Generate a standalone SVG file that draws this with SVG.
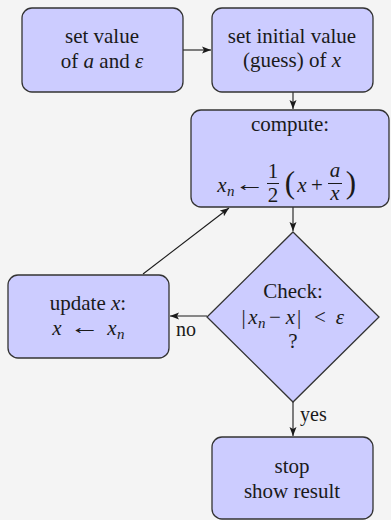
<svg xmlns="http://www.w3.org/2000/svg" width="391" height="520" viewBox="0 0 391 520">
  <style>
    .box { fill: #ccccff; stroke: #333333; stroke-width: 1.3; }
    .t { font-family: "Liberation Serif", "DejaVu Serif", serif; font-size: 21px; fill: #1a1a1a; text-anchor: middle; }
    .m { font-style: italic; }
    .sub { font-family: "Liberation Serif", serif; font-style: italic; font-size: 15px; fill: #1a1a1a; }
    .edge { stroke: #1a1a1a; stroke-width: 1.1; fill: none; marker-end: url(#arr); }
    .bar { stroke: #1a1a1a; stroke-width: 1; }
    .lbl { font-family: "Liberation Serif", "DejaVu Serif", serif; font-size: 20px; fill: #1a1a1a; }
    .paren { font-family: "Liberation Serif", serif; font-size: 31px; fill: #1a1a1a; text-anchor: middle; }
  </style>
  <defs>
    <marker id="arr" markerWidth="10" markerHeight="8" refX="9" refY="4" orient="auto" markerUnits="userSpaceOnUse">
      <path d="M0,0.5 L9,4 L0,7.5 L2,4 Z" fill="#1a1a1a"/>
    </marker>
  </defs>
  <rect width="391" height="520" fill="#f4f4f4"/>

  <g id="connectors">
    <line class="edge" x1="183" y1="50" x2="211" y2="50"/>
    <line class="edge" x1="293" y1="92" x2="293" y2="109"/>
    <line class="edge" x1="293" y1="207" x2="293" y2="231"/>
    <line class="edge" x1="207" y1="316" x2="170" y2="316"/>
    <line class="edge" x1="143" y1="274" x2="229" y2="208"/>
    <line class="edge" x1="293" y1="402" x2="293" y2="436"/>
    <text class="lbl" x="176" y="336">no</text>
    <text class="lbl" x="300" y="421">yes</text>
  </g>

  <g id="set-value">
    <rect class="box" x="22" y="8" width="161" height="84" rx="10"/>
    <text class="t" x="102" y="43">set value</text>
    <text class="t" x="102" y="68">of <tspan class="m">a</tspan> and <tspan class="m">ε</tspan></text>
  </g>

  <g id="initial-guess">
    <rect class="box" x="212" y="8" width="161" height="84" rx="10"/>
    <text class="t" x="292" y="43">set initial value</text>
    <text class="t" x="292" y="67">(guess) of <tspan class="m">x</tspan></text>
  </g>

  <g id="compute">
    <rect class="box" x="191" y="110" width="198" height="97" rx="10"/>
    <text class="t" x="290" y="131">compute:</text>
    <text class="t m" x="222" y="192">x</text>
    <text class="sub" x="227" y="196">n</text>
    <text class="t" x="0" y="0" transform="translate(250 191) scale(1.45 1)">←</text>
    <text class="t" x="273" y="178">1</text>
    <line class="bar" x1="267" y1="183.5" x2="279" y2="183.5"/>
    <text class="t" x="273" y="202">2</text>
    <text class="paren" x="290" y="193">(</text>
    <text class="t m" x="302" y="192">x</text>
    <text class="t" x="317" y="192">+</text>
    <text class="t m" x="335" y="177">a</text>
    <line class="bar" x1="328" y1="183.5" x2="342" y2="183.5"/>
    <text class="t m" x="335" y="200">x</text>
    <text class="paren" x="351" y="193">)</text>
  </g>

  <g id="check">
    <polygon class="box" points="293,232 379,317 293,402 207,317"/>
    <text class="t" x="293" y="298">Check:</text>
    <text class="t" x="243.5" y="324">|</text>
    <text class="t m" x="253" y="324">x</text>
    <text class="sub" x="258" y="328">n</text>
    <text class="t" x="275" y="324">−</text>
    <text class="t m" x="290.5" y="324">x</text>
    <text class="t" x="299" y="324">|</text>
    <text class="t" x="320" y="324">&lt;</text>
    <text class="t m" x="340" y="324">ε</text>
    <text class="t" x="293" y="348">?</text>
  </g>

  <g id="update">
    <rect class="box" x="8" y="275" width="161" height="83" rx="10"/>
    <text class="t" x="88" y="310">update <tspan class="m">x</tspan>:</text>
    <text class="t m" x="57" y="335">x</text>
    <text class="t" x="0" y="0" transform="translate(85 334) scale(1.45 1)">←</text>
    <text class="t m" x="112" y="335">x</text>
    <text class="sub" x="117" y="339">n</text>
  </g>

  <g id="stop">
    <rect class="box" x="212" y="437" width="161" height="82" rx="10"/>
    <text class="t" x="292" y="473">stop</text>
    <text class="t" x="292" y="498">show result</text>
  </g>
</svg>
